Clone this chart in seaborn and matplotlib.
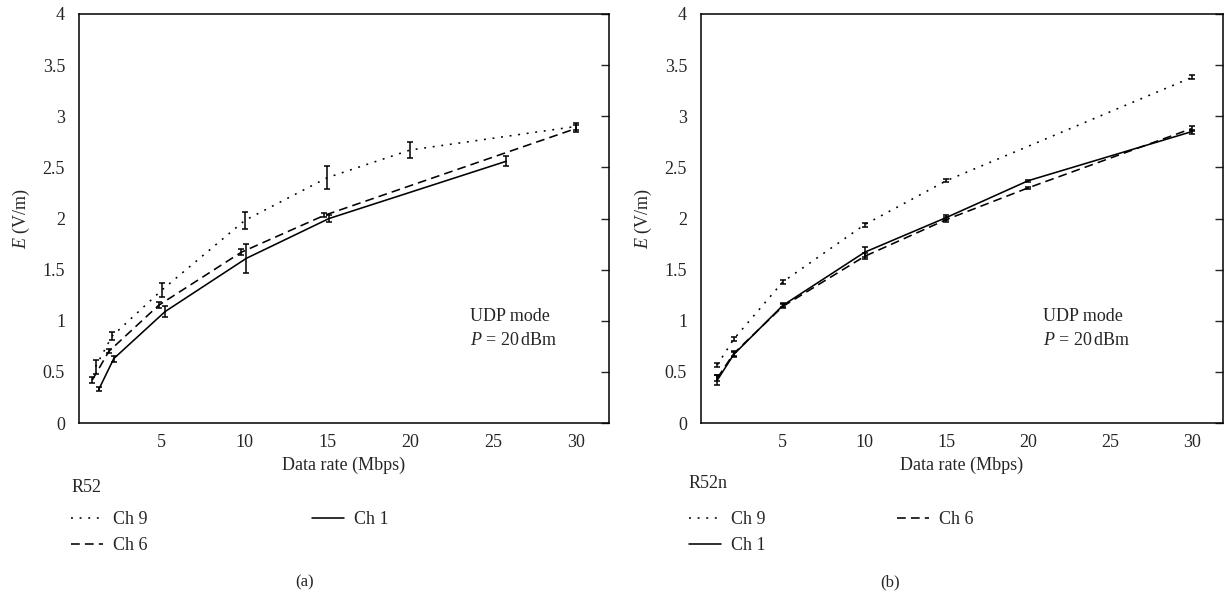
import numpy as np
import pandas as pd
import matplotlib
matplotlib.use("Agg")
import matplotlib.pyplot as plt
import seaborn as sns
from matplotlib.ticker import FuncFormatter, FixedLocator

# ---------------- data ----------------
# panel (a) R52
a_ch9_x = [1, 2, 5, 10, 15, 20, 30]
a_ch9_y = [0.55, 0.85, 1.30, 1.98, 2.40, 2.67, 2.90]
a_ch9_err = [0.07, 0.04, 0.07, 0.08, 0.11, 0.08, 0.03]
a_ch6_x = [0.8, 1.8, 4.8, 9.8, 14.8, 30]
a_ch6_y = [0.42, 0.70, 1.15, 1.67, 2.03, 2.88]
a_ch6_err = [0.03, 0.02, 0.03, 0.03, 0.02, 0.03]
a_ch1_x = [1.2, 2.1, 5.2, 10.1, 15.1, 25.8]
a_ch1_y = [0.33, 0.63, 1.09, 1.61, 2.00, 2.56]
a_ch1_err = [0.02, 0.03, 0.05, 0.14, 0.03, 0.05]

# panel (b) R52n
b_ch9_x = [1, 2, 5, 10, 15, 30]
b_ch9_y = [0.57, 0.82, 1.38, 1.94, 2.37, 3.38]
b_ch9_err = [0.02, 0.02, 0.02, 0.02, 0.015, 0.02]
b_ch1_x = [1, 2, 5, 10, 15, 20, 30]
b_ch1_y = [0.42, 0.67, 1.15, 1.67, 2.01, 2.37, 2.85]
b_ch1_err = [0.05, 0.02, 0.02, 0.05, 0.02, 0.01, 0.02]
b_ch6_x = [1, 2, 5, 10, 15, 20, 30]
b_ch6_y = [0.44, 0.68, 1.14, 1.63, 1.99, 2.30, 2.88]
b_ch6_err = [0.03, 0.02, 0.02, 0.03, 0.02, 0.01, 0.02]

series_names = ["Ch 9", "Ch 6", "Ch 1"]
x_ticks = [5, 10, 15, 20, 25, 30]
y_ticks = [0, 0.5, 1, 1.5, 2, 2.5, 3, 3.5, 4]

# ---------------- style ----------------
sns.set_theme(style="white")
plt.rcParams["font.family"] = ["Liberation Serif", "DejaVu Serif"]
plt.rcParams["mathtext.fontset"] = "custom"
plt.rcParams["mathtext.rm"] = "Liberation Serif"
plt.rcParams["mathtext.it"] = "Liberation Serif:italic"
FS = 13

fig = plt.figure(figsize=(12.26, 6.02), dpi=100)
ax_a = fig.add_axes([79 / 1226, 1 - 423 / 602, (609 - 79) / 1226, (423 - 14) / 602])
ax_b = fig.add_axes([701 / 1226, 1 - 423 / 602, (1223 - 701) / 1226, (423 - 14) / 602])

dashes = {"Ch 9": (1.2, 4.2), "Ch 6": (5.5, 3.2), "Ch 1": ""}
palette = {k: "black" for k in series_names}


def make_df(xs, ys, es):
    rows = []
    for name, x, y, e in zip(series_names, xs, ys, es):
        for xi, yi, ei in zip(x, y, e):
            rows.append({"x": xi, "y": yi, "err": ei, "series": name})
    return pd.DataFrame(rows)


df_a = make_df([a_ch9_x, a_ch6_x, a_ch1_x], [a_ch9_y, a_ch6_y, a_ch1_y],
               [a_ch9_err, a_ch6_err, a_ch1_err])
df_b = make_df([b_ch9_x, b_ch6_x, b_ch1_x], [b_ch9_y, b_ch6_y, b_ch1_y],
               [b_ch9_err, b_ch6_err, b_ch1_err])


def draw(ax, df, xmax):
    sns.lineplot(data=df, x="x", y="y", hue="series", style="series",
                 palette=palette, dashes=dashes, hue_order=series_names,
                 style_order=series_names, estimator=None, sort=False,
                 linewidth=1.15, ax=ax)
    for name in series_names:
        d = df[df["series"] == name]
        ax.errorbar(d["x"], d["y"], yerr=d["err"], fmt="none", ecolor="black",
                    elinewidth=1.1, capsize=2.2, capthick=1.1)
    handles, labels = ax.get_legend_handles_labels()
    ax.get_legend().remove()
    hmap = dict(zip(labels, handles))
    ax.set_xlim(0, xmax)
    ax.set_ylim(0, 4)
    ax.xaxis.set_major_locator(FixedLocator(x_ticks))
    ax.yaxis.set_major_locator(FixedLocator(y_ticks))
    ax.yaxis.set_major_formatter(FuncFormatter(lambda v, p: f"{v:g}"))
    ax.set_xlabel("Data rate (Mbps)", fontsize=FS, labelpad=4)
    ax.set_ylabel(r"$E$ (V/m)", fontsize=FS, labelpad=8)
    ax.tick_params(axis="x", direction="in", length=6, width=1, labelsize=FS, pad=8)
    ax.tick_params(axis="y", direction="out", length=6, width=1, labelsize=FS, pad=4,
                   right=True)
    # right side ticks pointing inward
    for t in ax.yaxis.get_major_ticks():
        t.tick2line.set_marker(matplotlib.lines.TICKLEFT)
        t.tick2line.set_markersize(6)
    for s in ax.spines.values():
        s.set_color("black")
        s.set_linewidth(1.1)
    ax.grid(False)
    return hmap


hm_a = draw(ax_a, df_a, 32.0)
hm_b = draw(ax_b, df_b, 31.9)

# annotations
ax_a.text((470 - 79) / 530, 0.232, "UDP mode\n" + r"$P$ = 20$\,$dBm", transform=ax_a.transAxes,
          fontsize=FS, ha="left", va="center", linespacing=1.55)
ax_b.text((1043 - 701) / 522, 0.232, "UDP mode\n" + r"$P$ = 20$\,$dBm", transform=ax_b.transAxes,
          fontsize=FS, ha="left", va="center", linespacing=1.55)

# legends (title and columns placed separately)
LEG = dict(frameon=False, loc="upper left", fontsize=FS, handlelength=1.75,
           handletextpad=0.6, labelspacing=0.52, borderpad=0.0, borderaxespad=0.0)


def legend_col(handles, labels, x, y):
    leg = fig.legend(handles, labels, bbox_to_anchor=(x / 1226, 1 - y / 602), **LEG)
    for h in leg.legend_handles:
        h.set_color("black")
    return leg


fig.text(72 / 1226, 1 - 487 / 602, "R52", fontsize=FS, ha="left", va="center")
legend_col([hm_a["Ch 9"], hm_a["Ch 6"]], ["Ch 9", "Ch 6"], 71, 511)
legend_col([hm_a["Ch 1"]], ["Ch 1"], 312, 511)

fig.text(689 / 1226, 1 - 483 / 602, "R52n", fontsize=FS, ha="left", va="center")
legend_col([hm_b["Ch 9"], hm_b["Ch 1"]], ["Ch 9", "Ch 1"], 689, 511)
legend_col([hm_b["Ch 6"]], ["Ch 6"], 897, 511)

fig.text(305 / 1226, 1 - 582 / 602, "(a)", fontsize=FS - 1, ha="center", va="center")
fig.text(890 / 1226, 1 - 582 / 602, "(b)", fontsize=FS - 1, ha="center", va="center")

fig.savefig("out.png", dpi=100)
